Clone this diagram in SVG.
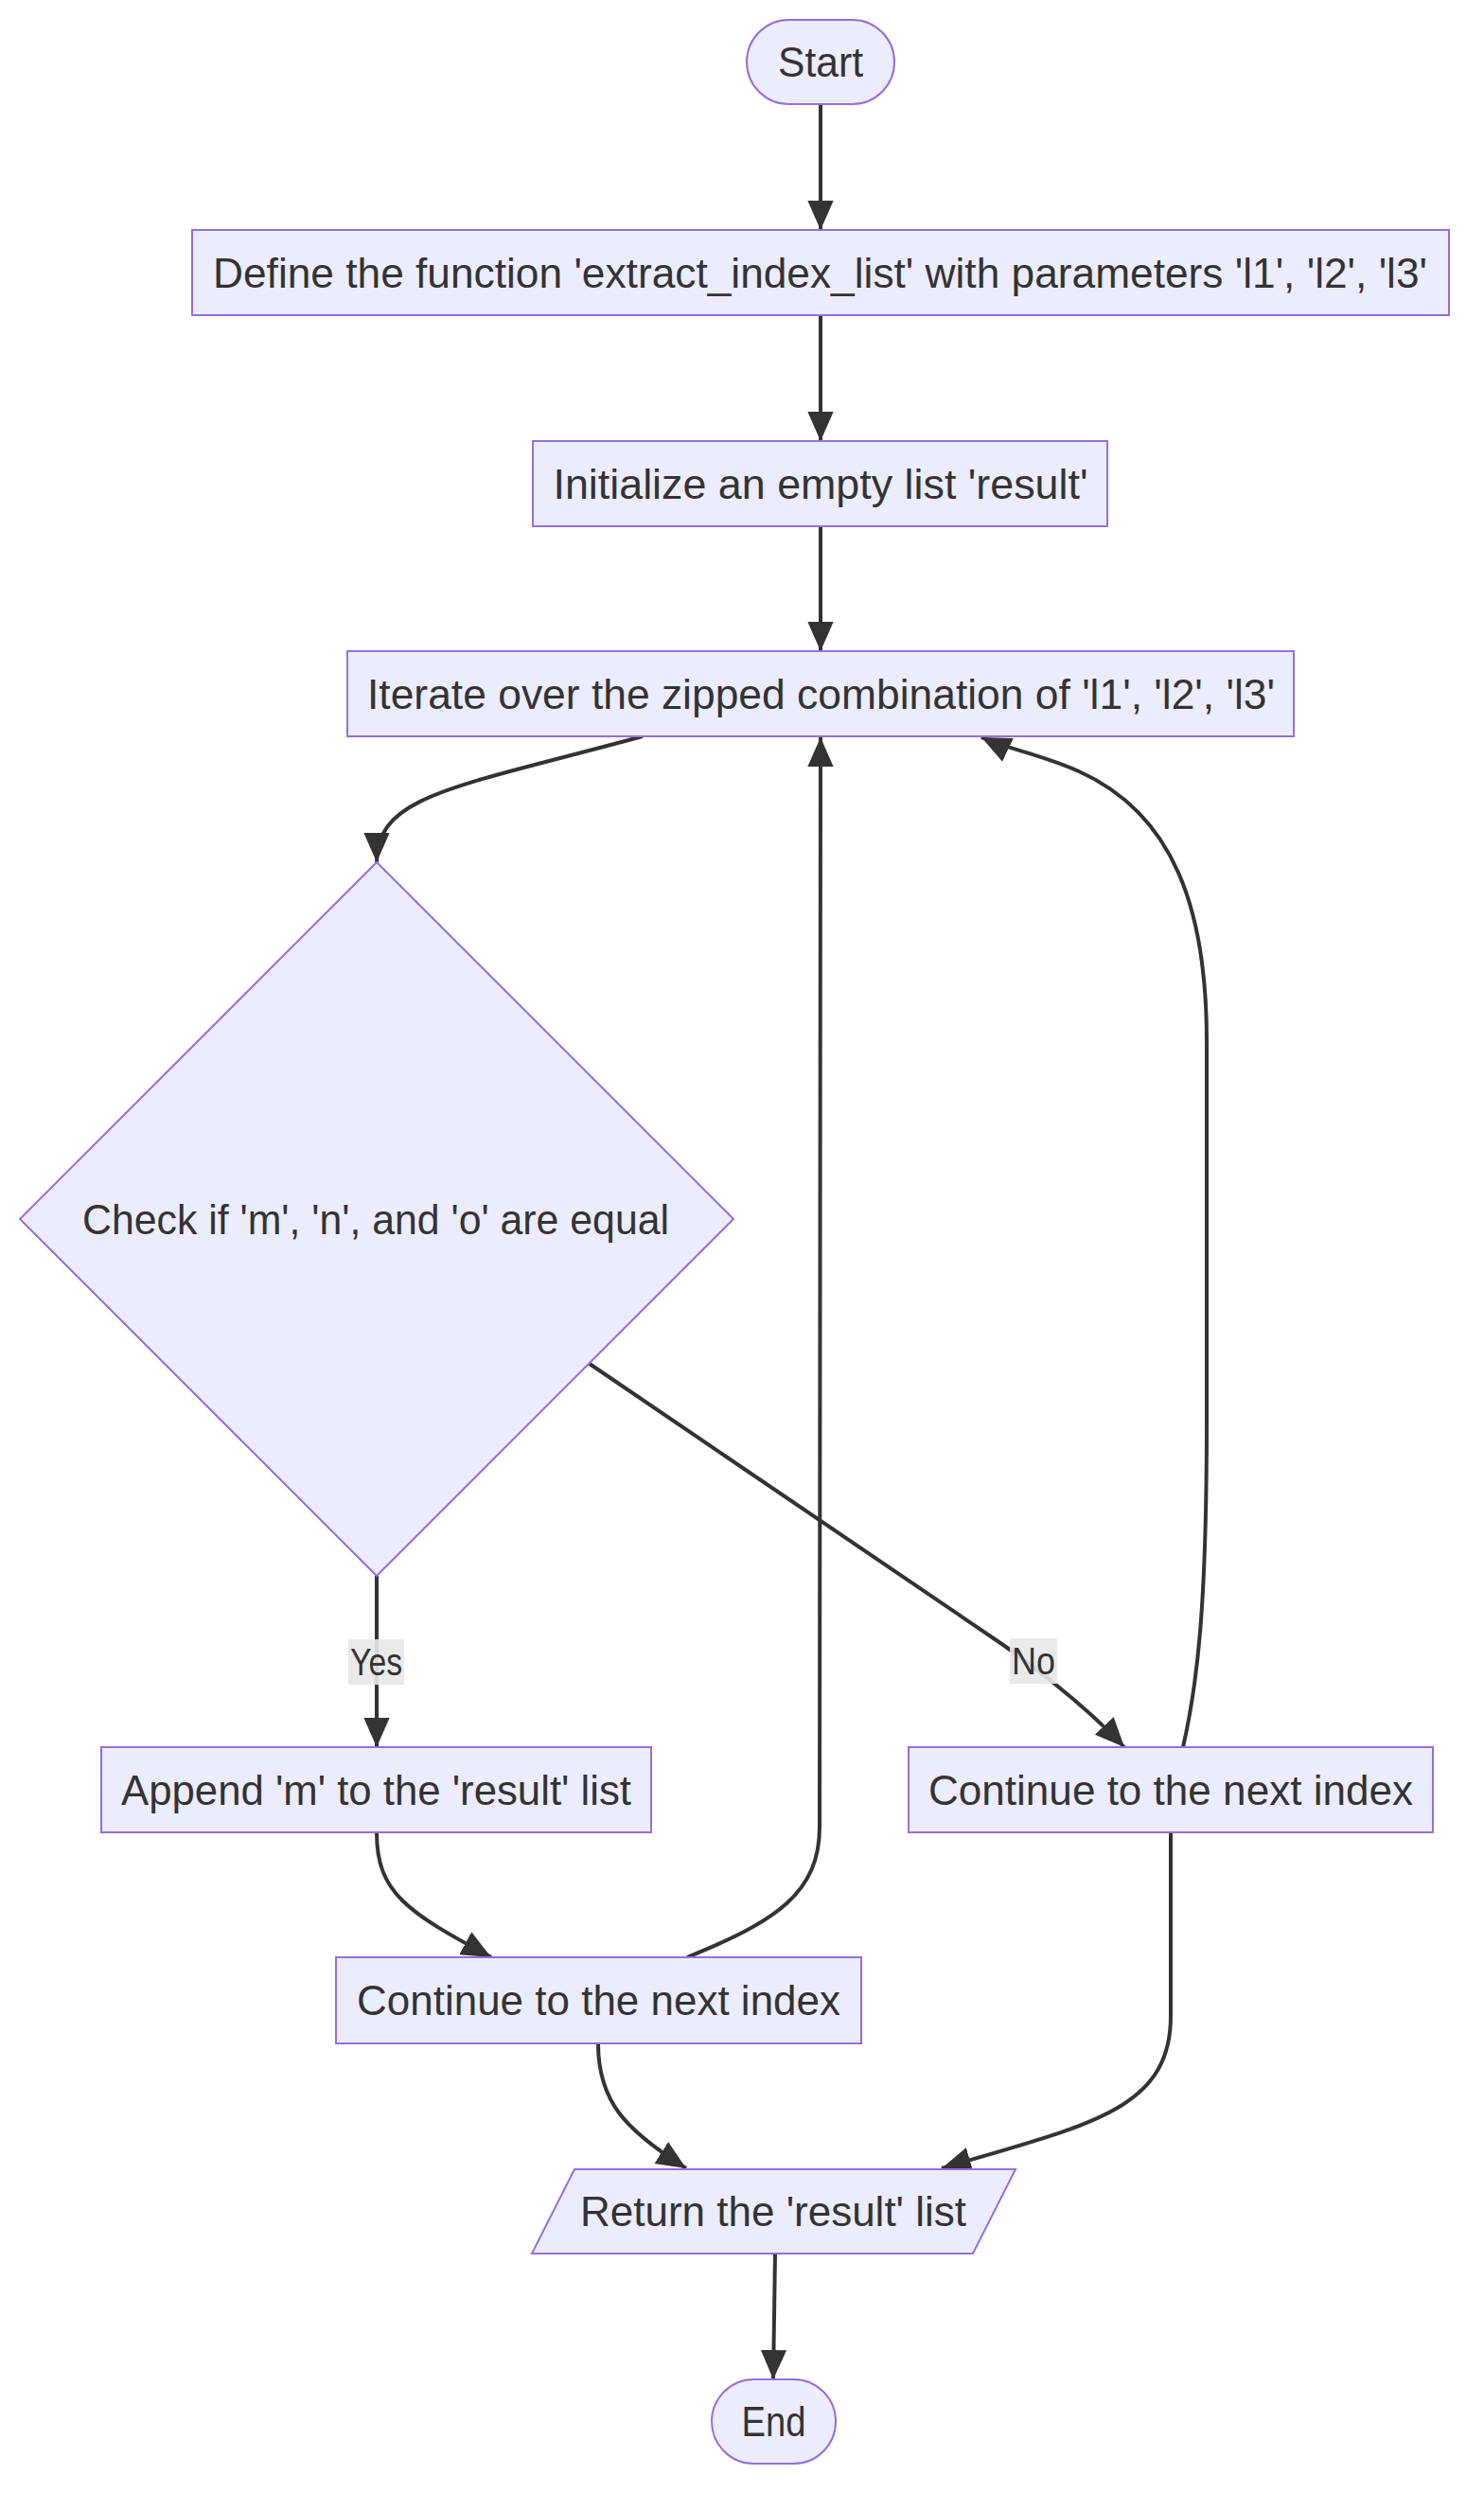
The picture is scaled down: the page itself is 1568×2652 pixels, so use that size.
<svg xmlns="http://www.w3.org/2000/svg" width="1568" height="2652" viewBox="0 0 1568 2652">
<style>
.node{fill:#ECECFF;stroke:#9370DB;stroke-width:2}
.lbl{font-family:"Liberation Sans",Arial,sans-serif;font-size:44px;fill:#333333;text-anchor:middle}
.elbl{font-family:"Liberation Sans",Arial,sans-serif;font-size:40px;fill:#333333;text-anchor:middle}
.edge{fill:none;stroke:#333333;stroke-width:4;marker-end:url(#arrow)}
.ebg{fill:#E8E8E8;opacity:0.9}
</style>
<defs>
<marker id="arrow" viewBox="0 0 10 10" refX="10" refY="5" markerUnits="userSpaceOnUse" markerWidth="31" markerHeight="31" orient="auto"><path d="M0,0.6 L10,5 L0,9.4 z" fill="#333333"/></marker>
</defs>
<rect width="1568" height="2652" fill="#FFFFFF"/>
<g id="connectors">
<path class="edge" d="M867,110 L867,243"/>
<path class="edge" d="M867,333 L867,466"/>
<path class="edge" d="M867,556 L867,688"/>
<path class="edge" d="M679,778 C480,832 398,840 398,911"/>
<path class="edge" d="M398,1665 L398,1846"/>
<path class="edge" d="M623,1441 L1060,1738 Q1140,1795 1188,1846"/>
<path class="edge" d="M398,1936 C398,2000 430,2020 519,2068"/>
<path class="edge" d="M726,2068 C820,2030 866,2000 866,1930 L867,779"/>
<path class="edge" d="M1250,1846 C1265,1780 1275,1700 1275,1500 L1275,1100 C1275,960 1240,860 1140,815 C1100,797 1060,790 1037,779"/>
<path class="edge" d="M632,2159 C632,2220 660,2250 725,2291"/>
<path class="edge" d="M1237,1936 L1237,2130 C1237,2230 1150,2245 995,2291"/>
<path class="edge" d="M819,2381 L817,2514"/>
</g>
<g id="edge-labels">
<g id="label-yes"><rect class="ebg" x="368" y="1732" width="59" height="48"/><text class="elbl" x="397.5" y="1770" textLength="55" lengthAdjust="spacingAndGlyphs">Yes</text></g>
<g id="label-no"><rect class="ebg" x="1067" y="1731" width="50" height="48"/><text class="elbl" x="1092" y="1769" textLength="46" lengthAdjust="spacingAndGlyphs">No</text></g>
</g>
<g id="start"><rect class="node" x="789" y="21" width="156" height="89" rx="44.5" ry="44.5"/><text class="lbl" x="867" y="81" textLength="90" lengthAdjust="spacingAndGlyphs">Start</text></g>
<g id="define"><rect class="node" x="203" y="243" width="1328" height="90"/><text class="lbl" x="866.5" y="304" textLength="1283" lengthAdjust="spacingAndGlyphs">Define the function 'extract_index_list' with parameters 'l1', 'l2', 'l3'</text></g>
<g id="init"><rect class="node" x="563" y="466" width="607" height="90"/><text class="lbl" x="867" y="527" textLength="565" lengthAdjust="spacingAndGlyphs">Initialize an empty list 'result'</text></g>
<g id="iterate"><rect class="node" x="367" y="688" width="1000" height="90"/><text class="lbl" x="867.5" y="749" textLength="959" lengthAdjust="spacingAndGlyphs">Iterate over the zipped combination of 'l1', 'l2', 'l3'</text></g>
<g id="check"><polygon class="node" points="398,911 775,1288 398,1665 21,1288"/><text class="lbl" x="397" y="1304" textLength="620" lengthAdjust="spacingAndGlyphs">Check if 'm', 'n', and 'o' are equal</text></g>
<g id="append"><rect class="node" x="107" y="1846" width="581" height="90"/><text class="lbl" x="397.5" y="1907" textLength="539" lengthAdjust="spacingAndGlyphs">Append 'm' to the 'result' list</text></g>
<g id="continue-no"><rect class="node" x="960" y="1846" width="554" height="90"/><text class="lbl" x="1237" y="1907" textLength="512" lengthAdjust="spacingAndGlyphs">Continue to the next index</text></g>
<g id="continue-yes"><rect class="node" x="355" y="2068" width="555" height="91"/><text class="lbl" x="632.5" y="2129" textLength="511" lengthAdjust="spacingAndGlyphs">Continue to the next index</text></g>
<g id="return"><polygon class="node" points="607,2292 1073,2292 1028,2381 562,2381"/><text class="lbl" x="817" y="2352" textLength="408" lengthAdjust="spacingAndGlyphs">Return the 'result' list</text></g>
<g id="end"><rect class="node" x="752" y="2514" width="131" height="89" rx="44.5" ry="44.5"/><text class="lbl" x="817.5" y="2574" textLength="68" lengthAdjust="spacingAndGlyphs">End</text></g>
</svg>
